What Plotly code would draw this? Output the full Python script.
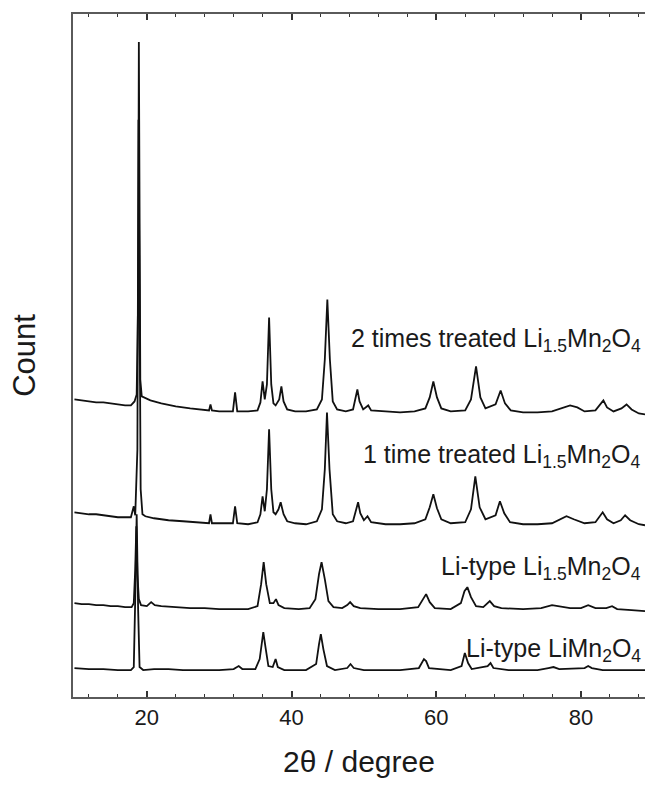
import plotly.graph_objects as go

# ---- data (2theta in degrees, intensity in arbitrary counts above each pattern's baseline) ----
tt_2x = [10, 11, 12, 13, 14, 15, 16, 17, 17.8, 18.3, 18.6, 18.8, 18.9, 19.0, 19.1, 19.3, 19.6, 20.5, 22, 24, 26, 28,
         28.6, 28.8, 29.0, 30, 31, 31.9, 32.2, 32.5, 34, 35.3, 35.7, 36.0, 36.3, 36.6, 36.9, 37.2, 37.5, 37.8, 38.3,
         38.6, 38.9, 39.4, 40.5, 42, 43.5, 44.2, 44.6, 44.95, 45.3, 45.7, 46.3, 47.5, 48.5, 48.9, 49.1, 49.4, 49.9,
         50.6, 51, 53, 55, 57, 58.5, 59.1, 59.6, 60.1, 60.7, 62, 64, 64.8, 65.5, 66.1, 66.8, 68.2, 68.9, 69.5, 70.3,
         72, 74, 76, 77.5, 78.5, 79.5, 80.5, 82, 82.6, 83.1, 83.6, 84.5, 85.6, 86.3, 87, 88, 88.85]
cnt_2x = [13, 12, 11, 10, 10, 9, 8, 7, 7, 11, 18, 113, 371, 163, 33, 16, 15, 12, 9, 6, 4, 2,
          2, 8, 2, 1, 1, 1, 20, 1, 1, 2, 10, 31, 13, 28, 95, 28, 9, 7, 13,
          26, 11, 3, 1, 1, 3, 13, 53, 113, 53, 11, 3, 1, 3, 15, 23, 11, 3,
          7, 2, 1, 0, 1, 4, 15, 31, 15, 4, 1, 2, 13, 46, 15, 4, 8, 22, 9, 2,
          0, 0, 1, 5, 7, 5, 1, 2, 8, 12, 5, 1, 4, 8, 3, -1, -2]

tt_1x = [10, 11, 12, 13, 14, 15, 16, 17, 17.8, 18.2, 18.4, 18.7, 18.85, 19.0, 19.15, 19.4, 19.8, 21, 23, 25, 27,
         28.6, 28.8, 29.0, 30, 31.9, 32.2, 32.5, 34, 35.3, 35.7, 36.0, 36.3, 36.6, 36.9, 37.2, 37.5, 37.8, 38.2,
         38.5, 38.9, 39.4, 40.5, 42, 43.5, 44.2, 44.6, 44.9, 45.25, 45.7, 46.3, 47.5, 48.5, 48.9, 49.2, 49.5, 50,
         50.5, 51, 53, 55, 57, 58.5, 59.1, 59.6, 60.1, 60.7, 62, 64, 64.8, 65.4, 66.0, 66.8, 68.2, 68.8, 69.4, 70.2,
         72, 74, 76, 77.3, 78.0, 79, 80.5, 82, 82.5, 83.0, 83.6, 84.5, 85.5, 86.1, 86.8, 88, 88.85]
cnt_1x = [12, 11, 10, 10, 9, 8, 7, 7, 7, 18, 9, 75, 405, 225, 35, 10, 8, 6, 4, 3, 2,
          1, 10, 1, 1, 1, 18, 1, 0, 2, 10, 28, 13, 35, 95, 35, 12, 10, 15,
          22, 10, 3, 1, 0, 3, 15, 55, 112, 55, 10, 3, 1, 3, 15, 22, 11, 4,
          8, 2, 0, 0, 1, 5, 17, 30, 16, 5, 1, 2, 15, 48, 17, 5, 9, 23, 11, 2,
          0, 0, 1, 6, 8, 5, 1, 2, 7, 12, 5, 1, 4, 9, 4, 0, -1]

tt_li15 = [10, 11, 12, 13, 14, 15, 16, 17, 17.9, 18.2, 18.4, 18.55, 18.7, 18.9, 19.2, 20, 20.6, 21.1, 22, 24, 26,
           28, 30, 32, 34, 35.3, 35.8, 36.15, 36.5, 37.0, 37.5, 37.85, 38.2, 39, 41, 42.5, 43.3, 43.8, 44.15, 44.6,
           45.1, 45.8, 47, 47.7, 48.1, 48.6, 49.5, 52, 55, 57.5, 58.2, 58.6, 59.1, 59.8, 62, 63.4, 63.9, 64.3, 64.8,
           65.5, 66.5, 67.4, 68.0, 69, 72, 74.5, 76, 77, 78.5, 80, 81.0, 82, 83.5, 84.3, 85, 87, 88.85]
cnt_li15 = [6, 5, 5, 4, 4, 3, 3, 2, 2, 6, 40, 83, 35, 10, 4, 3, 7, 4, 3, 2, 1,
            1, 0, 0, 0, 3, 25, 47, 25, 6, 6, 10, 4, 1, 0, 1, 10, 35, 47, 30,
            8, 2, 1, 4, 7, 3, 1, 0, 0, 2, 11, 15, 7, 1, 0, 6, 18, 22, 12,
            3, 2, 8, 3, 1, 0, 1, 4, 3, 1, 1, 4, 1, 1, 3, 0, -1, -2]

tt_li1 = [10, 12, 14, 16, 17.8, 18.2, 18.4, 18.6, 18.8, 19.0, 19.5, 21, 23, 25, 28, 30, 32, 32.7, 33.2, 35, 35.6,
          35.85, 36.1, 36.4, 36.8, 37.4, 37.8, 38.1, 39, 42, 43.4, 43.8, 44.05, 44.4, 44.9, 46, 47.7, 48.15, 48.6,
          50, 55, 57.6, 58.1, 58.3, 58.6, 59.0, 62, 63.5, 63.95, 64.4, 64.9, 67.1, 67.5, 67.9, 70, 74, 75.5, 76.2,
          77, 80.5, 81.0, 81.5, 83, 85, 88.85]
cnt_li1 = [2, 1, 1, 0, 0, 3, 71, 156, 61, 3, 0, 1, 1, 0, 0, 0, 1, 4, 1, 1, 11,
           26, 38, 23, 4, 3, 11, 3, 0, 0, 6, 26, 36, 21, 4, 0, 2, 6, 2,
           0, 0, 2, 9, 11, 9, 2, 0, 4, 17, 7, 1, 4, 7, 2, 0, 0, 2, 3,
           1, 2, 4, 2, 0, 0, 0]

patterns = [
    ("2 times treated Li<sub>1.5</sub>Mn<sub>2</sub>O<sub>4</sub>", tt_2x, cnt_2x),
    ("1 time treated Li<sub>1.5</sub>Mn<sub>2</sub>O<sub>4</sub>", tt_1x, cnt_1x),
    ("Li-type Li<sub>1.5</sub>Mn<sub>2</sub>O<sub>4</sub>", tt_li15, cnt_li15),
    ("Li-type LiMn<sub>2</sub>O<sub>4</sub>", tt_li1, cnt_li1),
]
offsets = [285, 173, 88, 27]          # vertical stacking offsets (counts)
label_y = [358, 241, 129, 47]         # label heights (counts)

fig = go.Figure()
for (name, xs, ys), off in zip(patterns, offsets):
    fig.add_trace(go.Scatter(x=xs, y=[v + off for v in ys], mode="lines",
                             line=dict(color="#111111", width=1.8), name=name,
                             showlegend=False))

for (name, _, _), ly in zip(patterns, label_y):
    fig.add_annotation(x=0.9965, xref="paper", y=ly, yref="y", text=name,
                       xanchor="right", yanchor="middle", showarrow=False,
                       font=dict(family="Arial, Liberation Sans, sans-serif", size=25, color="#1a1a1a"))

fig.update_layout(
    width=645, height=787,
    margin=dict(l=73, r=0, t=14, b=90),
    paper_bgcolor="white", plot_bgcolor="white",
    font=dict(family="Arial, Liberation Sans, sans-serif", color="#1a1a1a"),
)
fig.update_xaxes(
    range=[9.8, 88.85], tick0=0, dtick=20, ticks="inside", ticklen=6, tickwidth=1.5, tickcolor="#333",
    showline=True, linecolor="#5a5a5a", linewidth=2, mirror="ticks", showgrid=False, zeroline=False,
    tickfont=dict(size=22, color="#1a1a1a"),
    minor=dict(tick0=0, dtick=4, ticks="inside", ticklen=3, tickwidth=1.2, tickcolor="#333", showgrid=False),
    title=dict(text="2θ / degree", font=dict(size=30, color="#1a1a1a"), standoff=22),
)
fig.update_yaxes(
    range=[0, 684], showticklabels=False, ticks="", showgrid=False, zeroline=False,
    showline=True, linecolor="#5a5a5a", linewidth=2, mirror=False,
    title=dict(text="Count", font=dict(size=31, color="#1a1a1a"), standoff=26),
)

fig.write_html("out.html", config={"displayModeBar": False},
               post_script="document.body.style.margin='0';document.body.style.overflow='hidden';")
